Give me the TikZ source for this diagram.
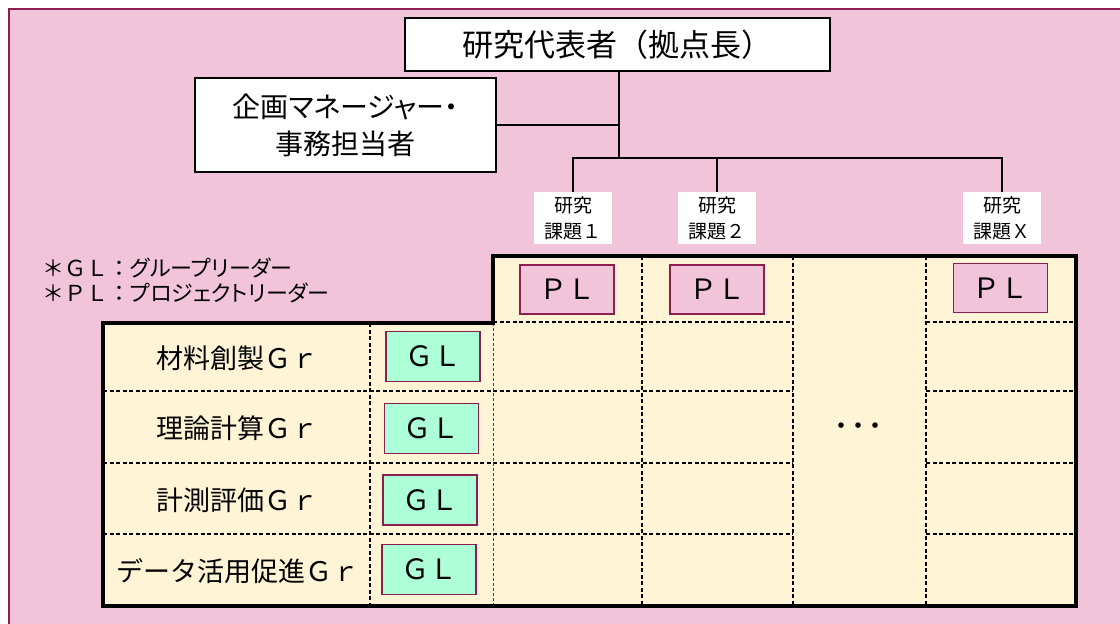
\documentclass[tikz,border=0pt]{standalone}
\usepackage{fontspec}
\setmainfont{Noto Sans CJK JP}
\newfontfamily\jpp{Noto Sans CJK JP}[RawFeature=+palt]
\definecolor{pinkbg}{RGB}{242,196,218}
\definecolor{creambg}{RGB}{255,245,214}
\definecolor{mintbg}{RGB}{172,255,215}
\definecolor{darkred}{RGB}{140,30,80}
\tikzset{
  whitebox/.style={draw=black, line width=1.3pt, fill=white, inner sep=0pt, align=center},
  topiclabel/.style={fill=white, inner sep=0pt, minimum width=78pt, minimum height=52pt, align=center, font=\fontsize{19}{26}\selectfont},
  plbox/.style={draw=darkred, line width=1.3pt, fill=pinkbg, inner sep=0pt, minimum width=94pt, minimum height=49pt, font=\fontsize{28}{30}\selectfont},
  glbox/.style={draw=darkred, line width=1.3pt, fill=mintbg, inner sep=0pt, minimum width=94pt, minimum height=50pt, font=\fontsize{28}{30}\selectfont},
  rowlabel/.style={inner sep=0pt, font=\fontsize{27}{30}\selectfont},
  conn/.style={draw=black, line width=1.5pt},
  griddash/.style={draw=black, line width=1.2pt, dash pattern=on 4pt off 2.5pt},
  reddash/.style={draw=darkred, line width=0.8pt, dash pattern=on 3pt off 2pt},
  thickframe/.style={draw=black, line width=4pt, line join=miter},
}
\begin{document}
\begin{tikzpicture}[x=1pt,y=-1pt]
\useasboundingbox (0,0) rectangle (1120,624);
% background
\fill[white] (0,0) rectangle (1120,624);
\fill[pinkbg] (9,9) rectangle (1120,624);
\draw[darkred, line width=1.5pt] (9,624) -- (9,9) -- (1120,9);

% table fill
\fill[creambg] (493,256) -- (1076,256) -- (1076,606) -- (103,606) -- (103,323) -- (493,323) -- cycle;
% grid lines
\foreach \x in {642,793,926} \draw[griddash] (\x,256) -- (\x,606);
\draw[griddash] (493,322) -- (793,322);
\draw[griddash] (926,322) -- (1076,322);
\foreach \y in {391,463,534} {
  \draw[griddash] (103,\y) -- (793,\y);
  \draw[griddash] (926,\y) -- (1076,\y);
}
\draw[griddash] (370,323) -- (370,606);
\draw[reddash] (493,323) -- (493,606);
% frame
\draw[thickframe] (493,256) -- (1076,256) -- (1076,606) -- (103,606) -- (103,323) -- (493,323) -- cycle;

% top boxes
\node[whitebox, minimum width=425pt, minimum height=53pt, font=\fontsize{31}{36}\selectfont] (rep) at (617.5,44.5) {研究代表者（拠点長）};
\node[whitebox, minimum width=301pt, minimum height=94pt, font=\jpp\fontsize{28}{37}\selectfont] (mgr) at (345.5,125) {企画マネージャー・\\事務担当者};

% topic labels
\node[topiclabel] (k1) at (573,218) {研究\\課題１};
\node[topiclabel] (k2) at (717,218) {研究\\課題２};
\node[topiclabel] (kx) at (1002,218) {研究\\課題Ｘ};

% connectors
\coordinate (bus) at (619,158);
\draw[conn] (rep.south -| bus) -- (bus);
\draw[conn] (mgr.east) -- (mgr.east -| bus);
\draw[conn] (k1.north) -- (k1.north |- bus) -- (kx.north |- bus) -- (kx.north);
\draw[conn] (k2.north) -- (k2.north |- bus);

% PL boxes
\node[plbox] (pl1) at (567,289.5) {ＰＬ};
\node[plbox] (pl2) at (717,289.5) {ＰＬ};
\node[plbox] (plx) at (1000.5,288) {ＰＬ};

% GL boxes
\node[glbox] (gl1) at (433,356.5) {ＧＬ};
\node[glbox] (gl2) at (431.5,428.5) {ＧＬ};
\node[glbox] (gl3) at (430,500) {ＧＬ};
\node[glbox] (gl4) at (429,569.5) {ＧＬ};

% row labels
\node[rowlabel] (r1) at (237,358) {材料創製Ｇｒ};
\node[rowlabel] (r2) at (237,428) {理論計算Ｇｒ};
\node[rowlabel] (r3) at (237,500) {計測評価Ｇｒ};
\node[rowlabel] (r4) at (238,571) {データ活用促進Ｇｒ};

% ellipsis
\node[inner sep=0pt, font=\fontsize{26}{30}\selectfont] (dots) at (858,429) {・\kern-9pt・\kern-9pt・};

% legend
\node[anchor=west, inner sep=0pt, align=left, font=\fontsize{22}{25}\selectfont] (legend) at (42,280.5) {＊ＧＬ：{\jpp グループリーダー}\\＊ＰＬ：{\jpp プロジェクトリーダー}};
\end{tikzpicture}
\end{document}
